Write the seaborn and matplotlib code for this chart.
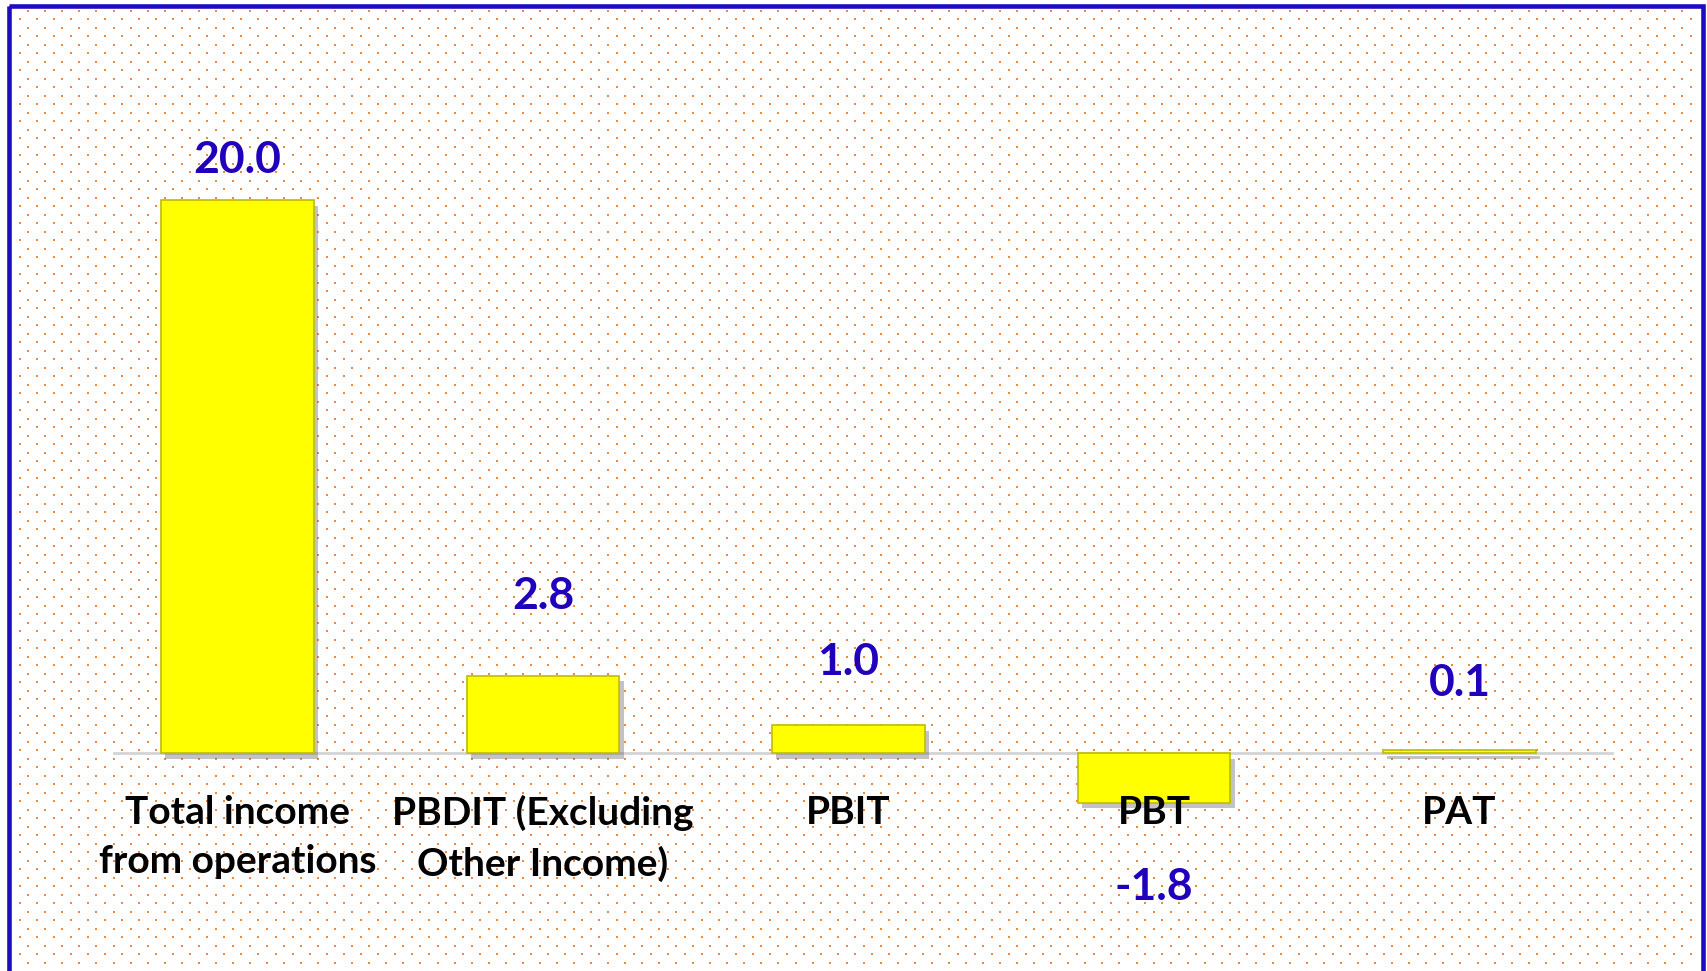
import matplotlib
matplotlib.use("Agg")
import matplotlib.pyplot as plt
import matplotlib.patheffects as pe
from matplotlib.patches import Rectangle
import seaborn as sns
import numpy as np

# data
categories = ["Total income\nfrom operations", "PBDIT (Excluding\nOther Income)", "PBIT", "PBT", "PAT"]
values = [20.0, 2.8, 1.0, -1.8, 0.1]
value_labels = ["20.0", "2.8", "1.0", "-1.8", "0.1"]

# styling
label_offsets_px = [40, 80, 63, -84, 67]   # Excel-style label placement
BAR_COLOR = "#FFFF00"
LABEL_BLUE = "#2000BB"
BORDER_BLUE = "#1E0CC0"
DOT_COLOR = "#EE7B2A"

sns.set_theme(style="white")
plt.rcParams["font.family"] = ["Lato", "DejaVu Sans"]

W, H = 1708, 971
fig = plt.figure(figsize=(W / 100, H / 100), dpi=100)
fig.patch.set_facecolor("white")

# background: dotted pattern + blue frame, in pixel coords
bg = fig.add_axes([0, 0, 1, 1], zorder=0)
bg.set_xlim(0, W)
bg.set_ylim(H, 0)
bg.axis("off")
rows = np.arange(11, H, 8.5)
xs, ys = [], []
for i, yy in enumerate(rows):
    start = 28.3 if i % 2 == 0 else 19.8
    cols = np.arange(start, W - 10, 17.05)
    xs.extend(cols)
    ys.extend([yy] * len(cols))
bg.scatter(xs, ys, s=2.2, marker="s", color=DOT_COLOR, linewidths=0, alpha=0.9)
bg.add_patch(Rectangle((9.5, 5.8), 1693.5, 1000, fill=False, edgecolor=BORDER_BLUE,
                       linewidth=3.3, clip_on=False))

# main chart
ax = fig.add_axes([114 / W, 0.0537, (1612 - 114) / W, 0.8542], zorder=1)
ax.set_facecolor("none")
sns.barplot(x=categories, y=values, color=BAR_COLOR, width=0.5, ax=ax,
            saturation=1, edgecolor="#BDBD00", linewidth=1.2)
for p in ax.patches:
    p.set_path_effects([pe.SimplePatchShadow(offset=(3, -4), shadow_rgbFace="#555555", alpha=0.35),
                        pe.Normal()])

ax.set_xlim(-0.404, 4.499)
ax.set_ylim(-6, 24)
ax.set_yticks([])
ax.set_xlabel("")
ax.set_ylabel("")
for s in ["top", "left", "right"]:
    ax.spines[s].set_visible(False)
ax.spines["bottom"].set_position(("data", 0))
ax.spines["bottom"].set_color("#D4D4D4")
ax.spines["bottom"].set_linewidth(2)
ax.spines["bottom"].set_zorder(0.5)
ax.xaxis.set_zorder(3)  # category text sits on top of the PBT bar
ax.tick_params(axis="x", length=0, pad=30)
for t in ax.get_xticklabels():
    t.set_fontsize(28)
    t.set_fontweight("bold")
    t.set_color("black")
    t.set_linespacing(1.5)
    t.set_verticalalignment("top")

for i, (v, lab) in enumerate(zip(values, value_labels)):
    ax.annotate(lab, xy=(i, v), xytext=(0, label_offsets_px[i]), textcoords="offset pixels",
                ha="center", va="center", fontsize=32, fontweight="bold", color=LABEL_BLUE)

fig.savefig("out.png", dpi=100)
